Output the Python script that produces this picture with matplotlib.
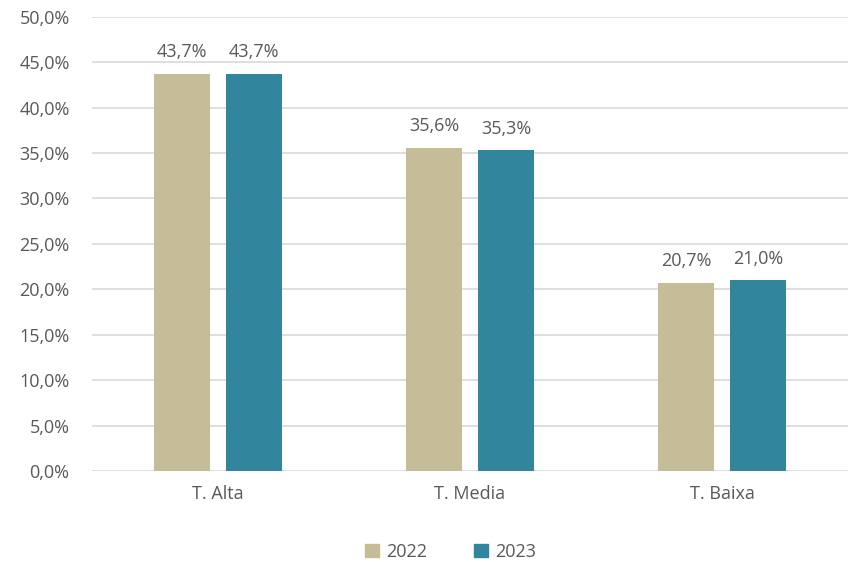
import numpy as np
import matplotlib
matplotlib.use("Agg")
import matplotlib.pyplot as plt
from matplotlib.ticker import FuncFormatter

categories = ["T. Alta", "T. Media", "T. Baixa"]
series_names = ["2022", "2023"]
values_2022 = [43.7, 35.6, 20.7]
values_2023 = [43.7, 35.3, 21.0]
colors = ["#C4BD97", "#31859C"]

plt.rcParams['font.family'] = ['Open Sans', 'DejaVu Sans']
text_color = "#595959"
fs = 13

fig = plt.figure(figsize=(8.5, 5.62), dpi=100)
ax = fig.add_axes([0.108, 0.162, 0.890, 0.808])

x = np.arange(len(categories))
w = 0.222
gap = 0.063
offsets = [-(w + gap) / 2, (w + gap) / 2]

for vals, off, col in zip([values_2022, values_2023], offsets, colors):
    bars = ax.bar(x + off, vals, width=w, color=col, zorder=3)
    for b, v in zip(bars, vals):
        ax.text(b.get_x() + b.get_width() / 2, v + 1.4,
                ("%.1f%%" % v).replace(".", ","),
                ha="center", va="bottom", fontsize=fs, color=text_color)

ax.set_xlim(-0.5, len(categories) - 0.5)
ax.set_ylim(0, 50)
ax.set_yticks(np.arange(0, 50.1, 5))
ax.yaxis.set_major_formatter(FuncFormatter(lambda v, p: ("%.1f%%" % v).replace(".", ",")))
ax.set_xticks(x)
ax.set_xticklabels(categories)
ax.tick_params(axis="both", length=0, labelsize=fs, labelcolor=text_color)
ax.tick_params(axis="y", pad=16)
ax.tick_params(axis="x", pad=10)
ax.grid(axis="y", color="#D9D9D9", linewidth=1.2, zorder=0)
for s in ax.spines.values():
    s.set_visible(False)

handles = [plt.Rectangle((0, 0), 1, 1, color=c) for c in colors]
fig.legend(handles, series_names, loc="center", bbox_to_anchor=(0.53, 0.018),
           ncol=2, frameon=False, fontsize=fs, handlelength=0.75, handleheight=0.75,
           columnspacing=2.6, handletextpad=0.4, labelcolor=text_color)

fig.savefig("out.png", dpi=100)
